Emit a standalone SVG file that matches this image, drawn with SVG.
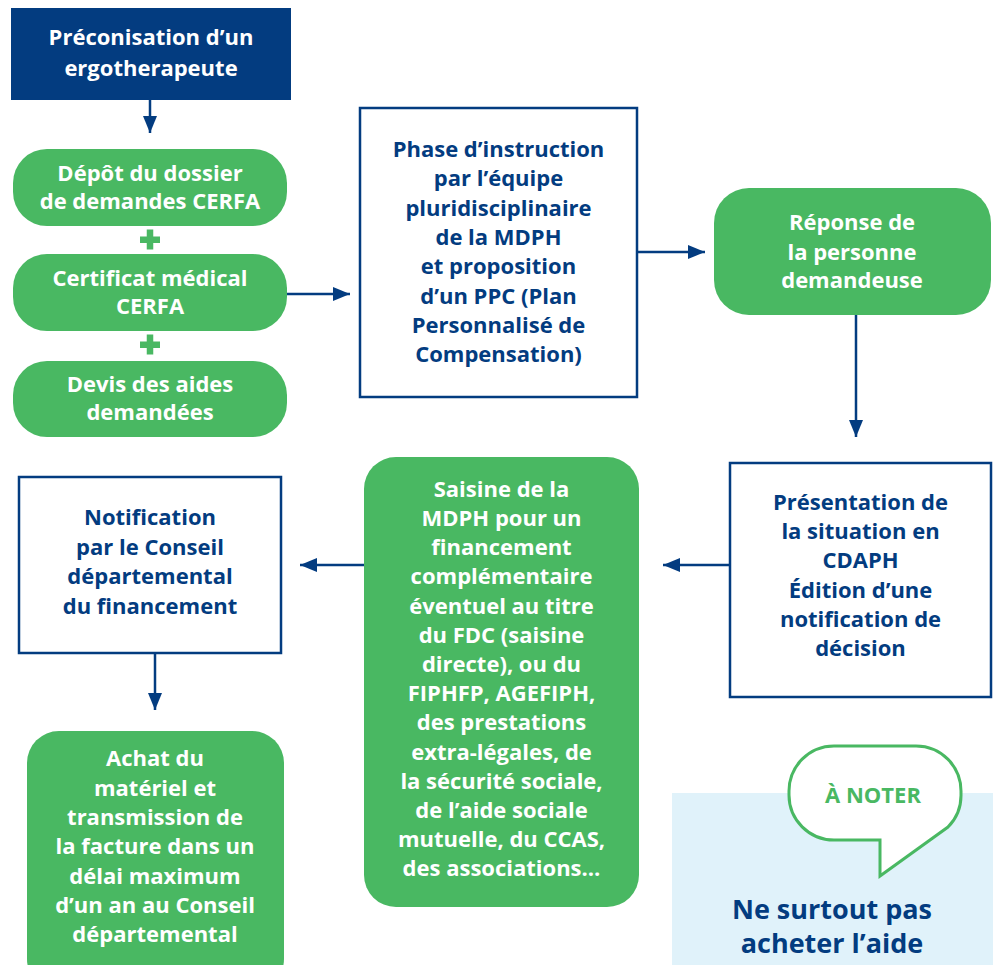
<svg xmlns="http://www.w3.org/2000/svg" width="1000" height="965" viewBox="0 0 1000 965">
<defs>
<style>
.t{font-family:"Open Sans","Noto Sans","Liberation Sans",sans-serif;font-weight:700;font-size:22px;text-anchor:middle}
.w{fill:#ffffff}
.n{fill:#033c80}
.g{fill:#49b862}
.box{fill:#ffffff;stroke:#033c80;stroke-width:2.5}
.pill{fill:#49b862}
.c{stroke:#033c80;stroke-width:2.5;fill:none;marker-end:url(#ah)}
</style>
<marker id="ah" viewBox="0 0 17 14" refX="17" refY="7" markerWidth="17" markerHeight="14" markerUnits="userSpaceOnUse" orient="auto">
<path d="M0,0 L17,7 L0,14 Z" fill="#033c80"/>
</marker>
</defs>
<rect width="1000" height="965" fill="#ffffff"/>

<g id="connectors">
<line class="c" x1="150" y1="100" x2="150" y2="133"/>
<line class="c" x1="287" y1="294" x2="350" y2="294"/>
<line class="c" x1="637" y1="252" x2="705" y2="252"/>
<line class="c" x1="856" y1="315" x2="856" y2="437"/>
<line class="c" x1="730" y1="565" x2="663" y2="565"/>
<line class="c" x1="364" y1="565" x2="300" y2="565"/>
<line class="c" x1="155" y1="653" x2="155" y2="710"/>
</g>

<g id="preconisation">
<rect x="11" y="8" width="280" height="92" fill="#033c80"/>
<text class="t w" x="151" y="45">Préconisation d’un</text>
<text class="t w" x="151" y="76">ergotherapeute</text>
</g>

<g id="depot">
<rect class="pill" x="13" y="149" width="274" height="77" rx="34"/>
<text class="t w" x="150" y="181">Dépôt du dossier</text>
<text class="t w" x="150" y="209">de demandes CERFA</text>
</g>

<g id="plus1">
<rect x="140" y="236.5" width="20" height="6.5" fill="#49b862"/>
<rect x="146.75" y="229.5" width="6.5" height="20" fill="#49b862"/>
</g>

<g id="certificat">
<rect class="pill" x="13" y="254" width="274" height="77" rx="34"/>
<text class="t w" x="150" y="286">Certificat médical</text>
<text class="t w" x="150" y="314">CERFA</text>
</g>

<g id="plus2">
<rect x="140" y="341.5" width="20" height="6.5" fill="#49b862"/>
<rect x="146.75" y="334.5" width="6.5" height="20" fill="#49b862"/>
</g>

<g id="devis">
<rect class="pill" x="13" y="361" width="274" height="76" rx="34"/>
<text class="t w" x="150" y="392">Devis des aides</text>
<text class="t w" x="150" y="420">demandées</text>
</g>

<g id="phase">
<rect class="box" x="360" y="108" width="277" height="289"/>
<text class="t n" x="498.5" y="157">Phase d’instruction</text>
<text class="t n" x="498.5" y="186">par l’équipe</text>
<text class="t n" x="498.5" y="216">pluridisciplinaire</text>
<text class="t n" x="498.5" y="245">de la MDPH</text>
<text class="t n" x="498.5" y="274">et proposition</text>
<text class="t n" x="498.5" y="304">d’un PPC (Plan</text>
<text class="t n" x="498.5" y="333">Personnalisé de</text>
<text class="t n" x="498.5" y="362">Compensation)</text>
</g>

<g id="reponse">
<rect class="pill" x="714" y="188" width="277" height="127" rx="35"/>
<text class="t w" x="852" y="230">Réponse de</text>
<text class="t w" x="852" y="260">la personne</text>
<text class="t w" x="852" y="288">demandeuse</text>
</g>

<g id="presentation">
<rect class="box" x="730" y="463" width="261" height="234"/>
<text class="t n" x="860.5" y="510">Présentation de</text>
<text class="t n" x="860.5" y="539">la situation en</text>
<text class="t n" x="860.5" y="568">CDAPH</text>
<text class="t n" x="860.5" y="598">Édition d’une</text>
<text class="t n" x="860.5" y="627">notification de</text>
<text class="t n" x="860.5" y="656">décision</text>
</g>

<g id="saisine">
<rect class="pill" x="364" y="457" width="275" height="450" rx="32"/>
<text class="t w" x="501.5" y="497">Saisine de la</text>
<text class="t w" x="501.5" y="526">MDPH pour un</text>
<text class="t w" x="501.5" y="555">financement</text>
<text class="t w" x="501.5" y="584">complémentaire</text>
<text class="t w" x="501.5" y="614">éventuel au titre</text>
<text class="t w" x="501.5" y="643">du FDC (saisine</text>
<text class="t w" x="501.5" y="672">directe), ou du</text>
<text class="t w" x="501.5" y="701">FIPHFP, AGEFIPH,</text>
<text class="t w" x="501.5" y="730">des prestations</text>
<text class="t w" x="501.5" y="760">extra-légales, de</text>
<text class="t w" x="501.5" y="789">la sécurité sociale,</text>
<text class="t w" x="501.5" y="818">de l’aide sociale</text>
<text class="t w" x="501.5" y="847">mutuelle, du CCAS,</text>
<text class="t w" x="501.5" y="876">des associations…</text>
</g>

<g id="notification">
<rect class="box" x="19" y="477" width="262" height="176"/>
<text class="t n" x="150" y="525">Notification</text>
<text class="t n" x="150" y="555">par le Conseil</text>
<text class="t n" x="150" y="584">départemental</text>
<text class="t n" x="150" y="614">du financement</text>
</g>

<g id="achat">
<rect class="pill" x="27" y="731" width="257" height="260" rx="32"/>
<text class="t w" x="155" y="766">Achat du</text>
<text class="t w" x="155" y="796">matériel et</text>
<text class="t w" x="155" y="825">transmission de</text>
<text class="t w" x="155" y="854">la facture dans un</text>
<text class="t w" x="155" y="884">délai maximum</text>
<text class="t w" x="155" y="913">d’un an au Conseil</text>
<text class="t w" x="155" y="942">départemental</text>
</g>

<g id="anoter">
<rect x="672" y="793" width="321" height="172" fill="#e0f2fa"/>
<path d="M834 746 H916 A45 45 0 0 1 961 791 V795 A45 45 0 0 1 948 827 L880 876 V840 H834 A45 45 0 0 1 789 795 V791 A45 45 0 0 1 834 746 Z" fill="#ffffff" stroke="#49b862" stroke-width="3"/>
<text class="t g" x="873" y="803">À NOTER</text>
<text class="t n" x="832" y="919" style="font-size:27px">Ne surtout pas</text>
<text class="t n" x="832" y="953" style="font-size:27px">acheter l’aide</text>
</g>
</svg>
